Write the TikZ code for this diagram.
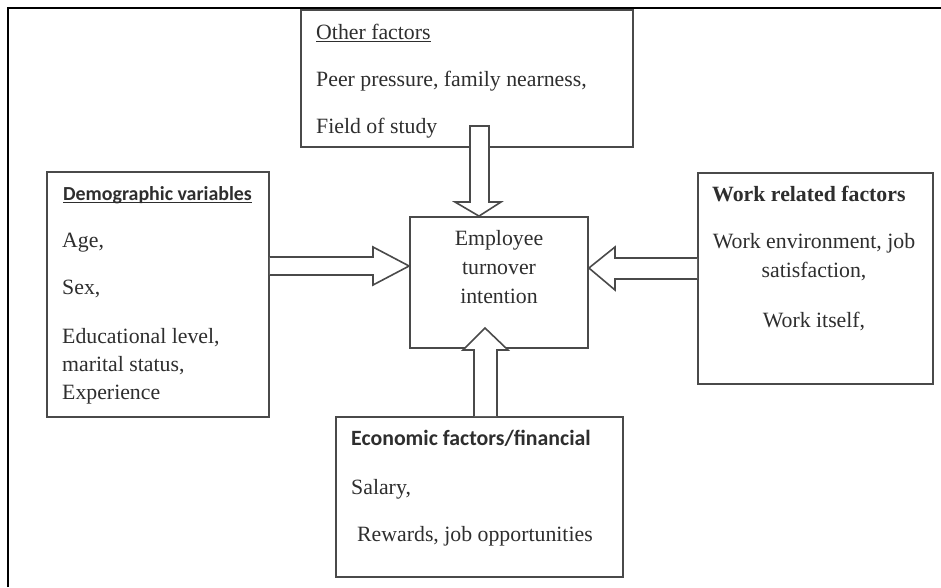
\documentclass[tikz,border=0pt]{standalone}
\usepackage{fontspec}
\setmainfont{Liberation Serif}
\newfontfamily\calib{Carlito}
\usetikzlibrary{calc}
\definecolor{ink}{HTML}{2E2E2E}
\definecolor{edge}{HTML}{4A4A4A}
\begin{document}
\begin{tikzpicture}[x=1pt,y=-1pt,
  box/.style={draw=edge, line width=1.8pt, fill=white, inner sep=0pt},
  txt/.style={inner sep=0pt, text=ink, font=\fontsize{21.8}{26}\selectfont},
  hd/.style={txt, font=\fontsize{21.8}{26}\selectfont\calib\bfseries},
  barrow/.style={draw=edge, line width=1.6pt, fill=white, line join=miter},
  frame/.style={draw=black, line width=2.4pt}]
\useasboundingbox (0,0) rectangle (941,587);
\draw[frame] (8,587) -- (8,8) -- (941,8);
% boxes
\node[box, minimum width=332, minimum height=137] (other) at (467,78.5) {};
\node[box, minimum width=222, minimum height=245] (demo) at (158,294.5) {};
\node[box, minimum width=178, minimum height=131] (center) at (499,282.5) {};
\node[box, minimum width=235, minimum height=211] (work) at (815.5,278.5) {};
\node[box, minimum width=287, minimum height=160] (econ) at (479.5,497) {};
% arrows
\filldraw[barrow] (demo.east |- 0,257) -- (373,257) -- (373,247) -- (center.west |- 0,266) -- (373,285) -- (373,275) -- (demo.east |- 0,275);
\filldraw[barrow] (work.west |- 0,258) -- (615,258) -- (615,247) -- (center.east |- 0,268) -- (615,290) -- (615,279) -- (work.west |- 0,279);
\filldraw[barrow] (470,126) -- (470,202) -- (455,202) -- (479,0 |- center.north) -- (501,202) -- (489,202) -- (489,126) -- cycle;
\filldraw[barrow] (474,0 |- econ.north) -- (474,350) -- (463,350) -- (485,328) -- (508,350) -- (497,350) -- (497,0 |- econ.north);
% other factors
\node[txt, anchor=base west] (o1) at (316,39) {Other factors};
\draw[ink, line width=0.9pt] ([yshift=-2.5pt]o1.base west) -- ([yshift=-2.5pt]o1.base east);
\node[txt, anchor=base west] (o2) at (316,86) {Peer pressure, family nearness,};
\node[txt, anchor=base west] (o3) at (316,133) {Field of study};
% demographic
\node[hd, anchor=base west, font=\fontsize{19.9}{24}\selectfont\calib\bfseries] (d1) at (63,200) {Demographic variables};
\draw[ink, line width=0.9pt] ([yshift=-2.5pt]d1.base west) -- ([yshift=-2.5pt]d1.base east);
\node[txt, anchor=base west] (d2) at (62,247) {Age,};
\node[txt, anchor=base west] (d3) at (62,294) {Sex,};
\node[txt, anchor=base west] (d4) at (62,343) {Educational level,};
\node[txt, anchor=base west] (d5) at (62,371) {marital status,};
\node[txt, anchor=base west] (d6) at (62,399) {Experience};
% center
\node[txt, anchor=base] (c1) at (499,245) {Employee};
\node[txt, anchor=base] (c2) at (499,274) {turnover};
\node[txt, anchor=base] (c3) at (499,303) {intention};
% work
\node[txt, anchor=base west, font=\fontsize{21.8}{26}\selectfont\bfseries] (w1) at (712,201) {Work related factors};
\node[txt, anchor=base] (w2) at (814,248) {Work environment, job};
\node[txt, anchor=base] (w3) at (814,277) {satisfaction,};
\node[txt, anchor=base] (w4) at (814,327) {Work itself,};
% economic
\node[hd, anchor=base west] (e1) at (351,445) {Economic factors/financial};
\node[txt, anchor=base west] (e2) at (351,494) {Salary,};
\node[txt, anchor=base west] (e3) at (357,541) {Rewards, job opportunities};
\end{tikzpicture}
\end{document}
